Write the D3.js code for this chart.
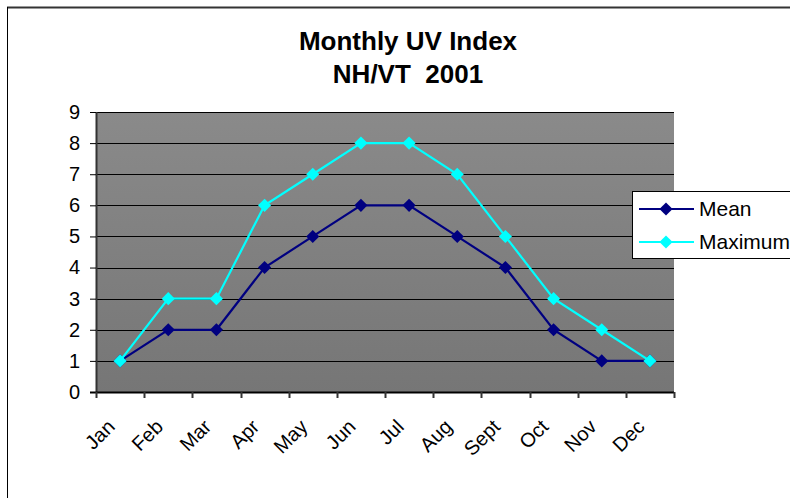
<!DOCTYPE html>
<html>
<head>
<meta charset="utf-8">
<script src="https://cdn.jsdelivr.net/npm/d3@7"></script>
<style>
  body { margin: 0; background: #fff; }
  text { font-family: Arial, "Liberation Sans", sans-serif; }
</style>
</head>
<body>
<div id="chart"></div>
<script>
//Chart data
var months = ["Jan", "Feb", "Mar", "Apr", "May", "Jun",
              "Jul", "Aug", "Sept", "Oct", "Nov", "Dec"];
var meanValues = [1, 2, 2, 4, 5, 6, 6, 5, 4, 2, 1, 1];
var maxValues = [1, 3, 3, 6, 7, 8, 8, 7, 5, 3, 2, 1];
var yTicks = [0, 1, 2, 3, 4, 5, 6, 7, 8, 9];
var titleLines = ["Monthly UV Index", "NH/VT  2001"];
var seriesNames = ["Mean", "Maximum"];
var seriesColors = ["#000080", "#00ffff"];

var width = 790, height = 498;
//Plot area
var plot = {left: 96, top: 112, right: 674, bottom: 392};

var svg = d3.select("#chart")
            .append("svg")
            .attr("width", width)
            .attr("height", height);

//Outer chart border (top and left are the only visible edges)
svg.append("line")
   .attr("x1", 7).attr("x2", width).attr("y1", 7.5).attr("y2", 7.5)
   .attr("stroke", "#333").attr("stroke-width", 2);
svg.append("line")
   .attr("x1", 7.5).attr("x2", 7.5).attr("y1", 7).attr("y2", height)
   .attr("stroke", "#000").attr("stroke-width", 1);

//Title
svg.selectAll("text.title")
   .data(titleLines)
   .enter()
   .append("text")
   .attr("class", "title")
   .attr("x", 408)
   .attr("y", function(d, i){return 50 + i * 33;})
   .attr("text-anchor", "middle")
   .attr("font-size", "26px")
   .attr("font-weight", "bold")
   .style("white-space", "pre")
   .text(function(d){return d;});

//Scales
var x = d3.scaleBand()
          .domain(months)
          .range([plot.left, plot.right]);
var y = d3.scaleLinear()
          .domain([0, 9])
          .range([plot.bottom, plot.top]);

//Gradient for the plot background
var grad = svg.append("defs")
              .append("linearGradient")
              .attr("id", "bg")
              .attr("x1", 0).attr("y1", 0).attr("x2", 0).attr("y2", 1);
grad.append("stop").attr("offset", "0%").attr("stop-color", "#8a8a8a");
grad.append("stop").attr("offset", "100%").attr("stop-color", "#767676");

svg.append("rect")
   .attr("x", plot.left)
   .attr("y", plot.top)
   .attr("width", plot.right - plot.left)
   .attr("height", plot.bottom - plot.top)
   .attr("fill", "url(#bg)");

//Gridlines
svg.append("g")
   .selectAll("line")
   .data(yTicks.slice(1))
   .enter()
   .append("line")
   .attr("x1", plot.left)
   .attr("x2", plot.right)
   .attr("y1", function(d){return Math.round(y(d)) + 0.5;})
   .attr("y2", function(d){return Math.round(y(d)) + 0.5;})
   .attr("stroke", "#000")
   .attr("stroke-width", 1);

//Plot area left edge
svg.append("line")
   .attr("x1", plot.left + 0.5).attr("x2", plot.left + 0.5)
   .attr("y1", plot.top).attr("y2", plot.bottom)
   .attr("stroke", "#333").attr("stroke-width", 2);

//Y axis
var yAxis = d3.axisLeft(y)
              .tickValues(yTicks)
              .tickSize(6)
              .tickPadding(10);
var yG = svg.append("g")
            .attr("transform", "translate(" + plot.left + ",0)")
            .call(yAxis);
yG.select(".domain").remove();
yG.selectAll(".tick line").attr("stroke", "#000");
yG.selectAll(".tick text")
  .attr("font-size", "20px")
  .attr("font-family", "Arial, 'Liberation Sans', sans-serif")
  .attr("fill", "#000");

//X axis (ticks on band edges)
var xG = svg.append("g");
xG.append("line")
  .attr("x1", plot.left - 6).attr("x2", plot.right)
  .attr("y1", plot.bottom + 0.5).attr("y2", plot.bottom + 0.5)
  .attr("stroke", "#000").attr("stroke-width", 2);
xG.selectAll("line.tick")
  .data(months.concat(["end"]))
  .enter()
  .append("line")
  .attr("class", "tick")
  .attr("x1", function(d, i){return Math.round(plot.left + i * x.bandwidth()) + 0.5;})
  .attr("x2", function(d, i){return Math.round(plot.left + i * x.bandwidth()) + 0.5;})
  .attr("y1", plot.bottom)
  .attr("y2", plot.bottom + 6)
  .attr("stroke", "#333")
  .attr("stroke-width", 2);
xG.selectAll("text")
  .data(months)
  .enter()
  .append("text")
  .attr("transform", function(d){
    return "translate(" + (x(d) + x.bandwidth() / 2 - 4) + "," + (plot.bottom + 36) + ") rotate(-45)";
  })
  .attr("text-anchor", "end")
  .attr("font-size", "20px")
  .text(function(d){return d;});

//Lines and markers
var series = [meanValues, maxValues];
var line = d3.line()
             .x(function(d, i){return x(months[i]) + x.bandwidth() / 2;})
             .y(function(d){return y(d);});
var diamond = d3.symbol().type(d3.symbolDiamond2).size(110);

series.forEach(function(vals, s){
  svg.append("path")
     .datum(vals)
     .attr("d", line)
     .attr("fill", "none")
     .attr("stroke", seriesColors[s])
     .attr("stroke-width", 2.2);
  svg.append("g")
     .selectAll("path")
     .data(vals)
     .enter()
     .append("path")
     .attr("d", diamond)
     .attr("transform", function(d, i){
       return "translate(" + (x(months[i]) + x.bandwidth() / 2) + "," + y(d) + ")";
     })
     .attr("fill", seriesColors[s]);
});

//Legend
var legend = svg.append("g");
legend.append("rect")
      .attr("x", 632.5).attr("y", 191.5)
      .attr("width", 170).attr("height", 67)
      .attr("fill", "#fff")
      .attr("stroke", "#000");
seriesNames.forEach(function(name, i){
  var ly = 209 + i * 33;
  legend.append("line")
        .attr("x1", 639).attr("x2", 694)
        .attr("y1", ly).attr("y2", ly)
        .attr("stroke", seriesColors[i])
        .attr("stroke-width", 2.2);
  legend.append("path")
        .attr("d", diamond)
        .attr("transform", "translate(" + 666 + "," + ly + ")")
        .attr("fill", seriesColors[i]);
  legend.append("text")
        .attr("x", 699)
        .attr("y", ly + 7)
        .attr("font-size", "21px")
        .text(name);
});
</script>
</body>
</html>
